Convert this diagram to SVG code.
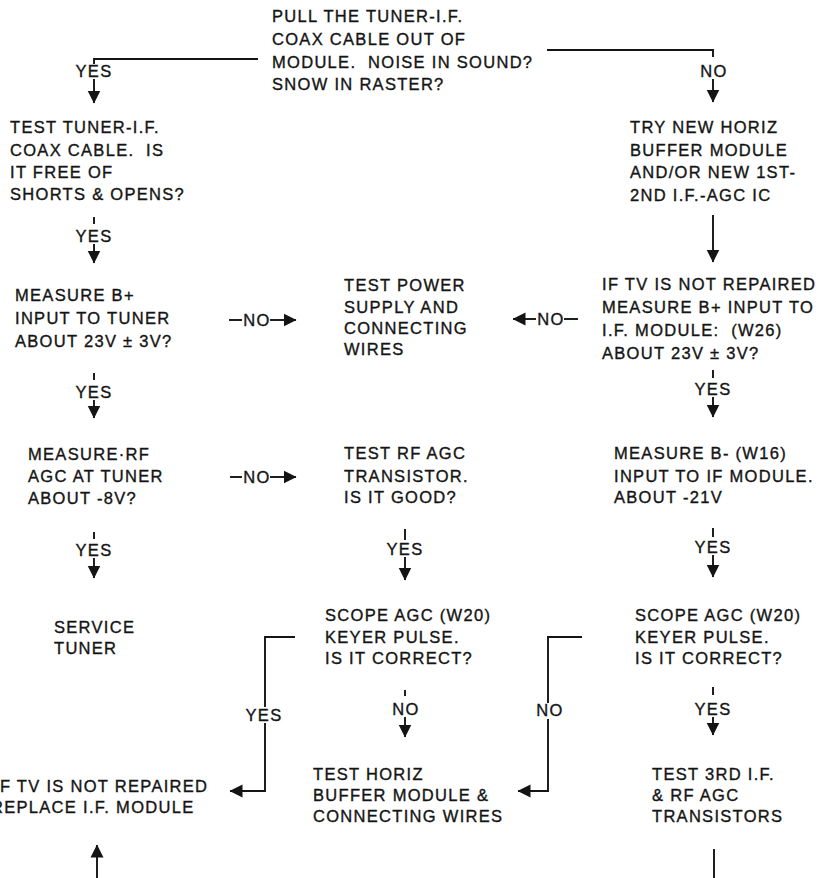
<svg xmlns="http://www.w3.org/2000/svg" width="819" height="878" viewBox="0 0 819 878">
<defs>
<style>
.t{font-family:"Liberation Sans",Arial,Helvetica,sans-serif;font-size:16.5px;letter-spacing:1.3px;fill:#141414;stroke:#141414;stroke-width:0.35;white-space:pre}
.c{text-anchor:middle}
.l{fill:none;stroke:#141414;stroke-width:1.9}
.a{marker-end:url(#ah)}
</style>
<marker id="ah" viewBox="0 0 13 14" markerUnits="userSpaceOnUse" markerWidth="13" markerHeight="14" refX="12.5" refY="7" orient="auto">
<path d="M0,0.5 L13,7 L0,13.5 Z" fill="#141414"/>
</marker>
</defs>
<rect width="819" height="878" fill="#ffffff"/>

<g id="connectors">
<path class="l" d="M258,59 H94 V64"/>
<text class="t c" x="94" y="77">YES</text>
<path class="l a" d="M94,79 V103"/>

<path class="l" d="M547,50 H713 V57"/>
<text class="t c" x="714" y="77">NO</text>
<path class="l a" d="M713,79 V102"/>

<path class="l" d="M94,217 V224"/>
<text class="t c" x="94" y="242">YES</text>
<path class="l a" d="M94,244 V263"/>

<path class="l a" d="M713,215 V262"/>

<path class="l" d="M94,373 V380"/>
<text class="t c" x="94" y="398">YES</text>
<path class="l a" d="M94,400 V418"/>

<path class="l" d="M229,320 H242"/>
<text class="t c" x="257" y="326">NO</text>
<path class="l a" d="M270,320 H296"/>

<path class="l" d="M578,319 H564"/>
<text class="t c" x="551" y="325">NO</text>
<path class="l a" d="M536,319 H513"/>

<path class="l" d="M713,370 V378"/>
<text class="t c" x="713" y="395">YES</text>
<path class="l a" d="M713,397 V417"/>

<path class="l" d="M94,532 V539"/>
<text class="t c" x="94" y="556">YES</text>
<path class="l a" d="M94,558 V578"/>

<path class="l" d="M230,477 H242"/>
<text class="t c" x="257" y="483">NO</text>
<path class="l a" d="M270,477 H296"/>

<path class="l" d="M405,529 V540"/>
<text class="t c" x="405" y="555">YES</text>
<path class="l a" d="M405,557 V580"/>

<path class="l" d="M713,528 V537"/>
<text class="t c" x="713" y="553">YES</text>
<path class="l a" d="M713,555 V577"/>

<path class="l" d="M295,637 H265 V707"/>
<text class="t c" x="264" y="721">YES</text>
<path class="l a" d="M265,723 V791 H230"/>

<path class="l" d="M405,690 V696"/>
<text class="t c" x="406" y="715">NO</text>
<path class="l a" d="M405,717 V737"/>

<path class="l" d="M582,637 H548 V703"/>
<text class="t c" x="550" y="716">NO</text>
<path class="l a" d="M548,719 V791 H518"/>

<path class="l" d="M713,687 V695"/>
<text class="t c" x="713" y="715">YES</text>
<path class="l a" d="M713,717 V735"/>

<path class="l a" d="M97,878 V845"/>
<path class="l" d="M714,849 V878"/>
</g>

<g id="n_start">
<text class="t" x="272" y="22">PULL THE TUNER-I.F.</text>
<text class="t" x="272" y="45">COAX CABLE OUT OF</text>
<text class="t" x="272" y="68">MODULE.  NOISE IN SOUND?</text>
<text class="t" x="272" y="90">SNOW IN RASTER?</text>
</g>
<g id="n_test_coax">
<text class="t" x="10" y="133">TEST TUNER-I.F.</text>
<text class="t" x="10" y="156">COAX CABLE.  IS</text>
<text class="t" x="10" y="178">IT FREE OF</text>
<text class="t" x="10" y="200">SHORTS &amp; OPENS?</text>
</g>
<g id="n_try_horiz">
<text class="t" x="630" y="133">TRY NEW HORIZ</text>
<text class="t" x="630" y="156">BUFFER MODULE</text>
<text class="t" x="630" y="178">AND/OR NEW 1ST-</text>
<text class="t" x="630" y="201">2ND I.F.-AGC IC</text>
</g>
<g id="n_measure_b_tuner">
<text class="t" x="15" y="301">MEASURE B+</text>
<text class="t" x="15" y="324">INPUT TO TUNER</text>
<text class="t" x="15" y="347">ABOUT 23V ± 3V?</text>
</g>
<g id="n_test_power">
<text class="t" x="344" y="291">TEST POWER</text>
<text class="t" x="344" y="313">SUPPLY AND</text>
<text class="t" x="344" y="334">CONNECTING</text>
<text class="t" x="344" y="355">WIRES</text>
</g>
<g id="n_measure_b_if">
<text class="t" x="602" y="290">IF TV IS NOT REPAIRED</text>
<text class="t" x="602" y="313">MEASURE B+ INPUT TO</text>
<text class="t" x="602" y="336">I.F. MODULE:  (W26)</text>
<text class="t" x="602" y="359">ABOUT 23V ± 3V?</text>
</g>
<g id="n_measure_rf">
<text class="t" x="28" y="460">MEASURE·RF</text>
<text class="t" x="28" y="482">AGC AT TUNER</text>
<text class="t" x="28" y="504">ABOUT -8V?</text>
</g>
<g id="n_test_rf">
<text class="t" x="344" y="459">TEST RF AGC</text>
<text class="t" x="344" y="482">TRANSISTOR.</text>
<text class="t" x="344" y="503">IS IT GOOD?</text>
</g>
<g id="n_measure_bminus">
<text class="t" x="614" y="459">MEASURE B- (W16)</text>
<text class="t" x="614" y="482">INPUT TO IF MODULE.</text>
<text class="t" x="614" y="503">ABOUT -21V</text>
</g>
<g id="n_service">
<text class="t" x="54" y="633">SERVICE</text>
<text class="t" x="54" y="654">TUNER</text>
</g>
<g id="n_scope1">
<text class="t" x="325" y="621">SCOPE AGC (W20)</text>
<text class="t" x="325" y="643">KEYER PULSE.</text>
<text class="t" x="325" y="664">IS IT CORRECT?</text>
</g>
<g id="n_scope2">
<text class="t" x="635" y="621">SCOPE AGC (W20)</text>
<text class="t" x="635" y="643">KEYER PULSE.</text>
<text class="t" x="635" y="664">IS IT CORRECT?</text>
</g>
<g id="n_replace">
<text class="t" x="-6" y="792">IF TV IS NOT REPAIRED</text>
<text class="t" x="-9" y="813">REPLACE I.F. MODULE</text>
</g>
<g id="n_test_horiz">
<text class="t" x="313" y="780">TEST HORIZ</text>
<text class="t" x="313" y="801">BUFFER MODULE &amp;</text>
<text class="t" x="313" y="822">CONNECTING WIRES</text>
</g>
<g id="n_test_3rd">
<text class="t" x="652" y="780">TEST 3RD I.F.</text>
<text class="t" x="652" y="801">&amp; RF AGC</text>
<text class="t" x="652" y="822">TRANSISTORS</text>
</g>
</svg>
